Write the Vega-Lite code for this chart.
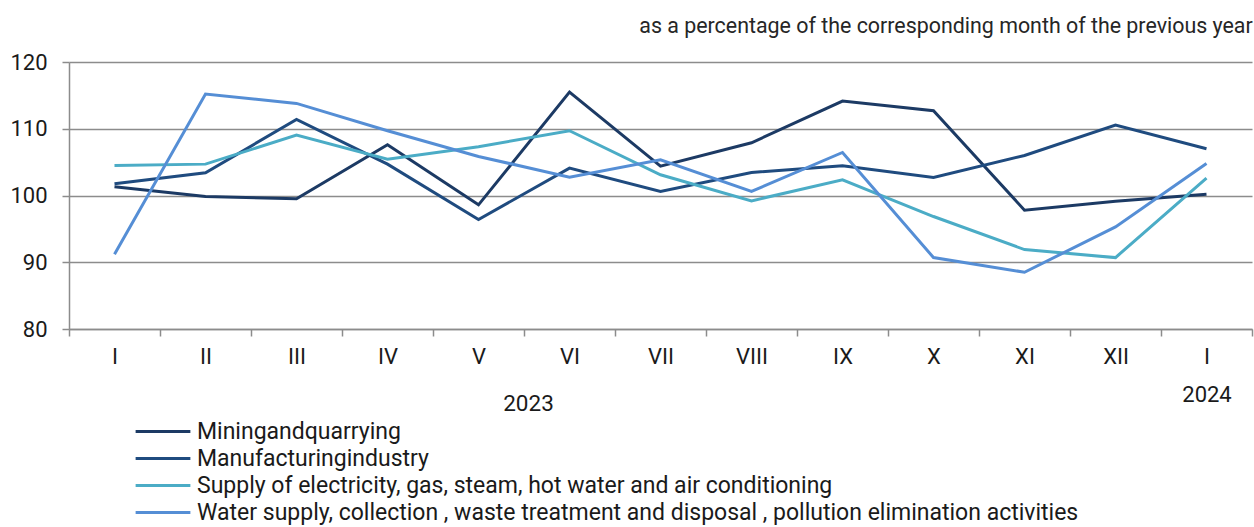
{
  "$schema": "https://vega.github.io/schema/vega-lite/v6.json",
  "autosize": {"type": "none"},
  "padding": {"left": 69, "top": 62, "right": 2, "bottom": 198},
  "width": 1183,
  "height": 267,
  "background": "white",
  "title": {
    "text": "as a percentage of the corresponding month of the previous year",
    "anchor": "end",
    "font": "Roboto",
    "fontSize": 21.4,
    "fontWeight": "normal",
    "color": "#262626",
    "offset": 14
  },
  "config": {
    "view": {"stroke": null},
    "font": "Roboto"
  },
  "data": {
    "values": [
      {"period": "I 2023", "series": "Miningandquarrying", "value": 101.3},
      {"period": "II", "series": "Miningandquarrying", "value": 99.85},
      {"period": "III", "series": "Miningandquarrying", "value": 99.5},
      {"period": "IV", "series": "Miningandquarrying", "value": 107.6},
      {"period": "V", "series": "Miningandquarrying", "value": 98.6},
      {"period": "VI", "series": "Miningandquarrying", "value": 115.5},
      {"period": "VII", "series": "Miningandquarrying", "value": 104.4},
      {"period": "VIII", "series": "Miningandquarrying", "value": 107.9},
      {"period": "IX", "series": "Miningandquarrying", "value": 114.15},
      {"period": "X", "series": "Miningandquarrying", "value": 112.7},
      {"period": "XI", "series": "Miningandquarrying", "value": 97.8},
      {"period": "XII", "series": "Miningandquarrying", "value": 99.15},
      {"period": "I 2024", "series": "Miningandquarrying", "value": 100.2},

      {"period": "I 2023", "series": "Manufacturingindustry", "value": 101.75},
      {"period": "II", "series": "Manufacturingindustry", "value": 103.4},
      {"period": "III", "series": "Manufacturingindustry", "value": 111.4},
      {"period": "IV", "series": "Manufacturingindustry", "value": 104.7},
      {"period": "V", "series": "Manufacturingindustry", "value": 96.4},
      {"period": "VI", "series": "Manufacturingindustry", "value": 104.1},
      {"period": "VII", "series": "Manufacturingindustry", "value": 100.6},
      {"period": "VIII", "series": "Manufacturingindustry", "value": 103.45},
      {"period": "IX", "series": "Manufacturingindustry", "value": 104.45},
      {"period": "X", "series": "Manufacturingindustry", "value": 102.7},
      {"period": "XI", "series": "Manufacturingindustry", "value": 106.0},
      {"period": "XII", "series": "Manufacturingindustry", "value": 110.55},
      {"period": "I 2024", "series": "Manufacturingindustry", "value": 107.0},

      {"period": "I 2023", "series": "Supply of electricity, gas, steam, hot water and air conditioning", "value": 104.5},
      {"period": "II", "series": "Supply of electricity, gas, steam, hot water and air conditioning", "value": 104.7},
      {"period": "III", "series": "Supply of electricity, gas, steam, hot water and air conditioning", "value": 109.05},
      {"period": "IV", "series": "Supply of electricity, gas, steam, hot water and air conditioning", "value": 105.45},
      {"period": "V", "series": "Supply of electricity, gas, steam, hot water and air conditioning", "value": 107.3},
      {"period": "VI", "series": "Supply of electricity, gas, steam, hot water and air conditioning", "value": 109.7},
      {"period": "VII", "series": "Supply of electricity, gas, steam, hot water and air conditioning", "value": 103.1},
      {"period": "VIII", "series": "Supply of electricity, gas, steam, hot water and air conditioning", "value": 99.2},
      {"period": "IX", "series": "Supply of electricity, gas, steam, hot water and air conditioning", "value": 102.35},
      {"period": "X", "series": "Supply of electricity, gas, steam, hot water and air conditioning", "value": 96.85},
      {"period": "XI", "series": "Supply of electricity, gas, steam, hot water and air conditioning", "value": 91.9},
      {"period": "XII", "series": "Supply of electricity, gas, steam, hot water and air conditioning", "value": 90.7},
      {"period": "I 2024", "series": "Supply of electricity, gas, steam, hot water and air conditioning", "value": 102.6},

      {"period": "I 2023", "series": "Water supply, collection , waste treatment and disposal , pollution elimination activities", "value": 91.2},
      {"period": "II", "series": "Water supply, collection , waste treatment and disposal , pollution elimination activities", "value": 115.2},
      {"period": "III", "series": "Water supply, collection , waste treatment and disposal , pollution elimination activities", "value": 113.8},
      {"period": "IV", "series": "Water supply, collection , waste treatment and disposal , pollution elimination activities", "value": 109.7},
      {"period": "V", "series": "Water supply, collection , waste treatment and disposal , pollution elimination activities", "value": 105.85},
      {"period": "VI", "series": "Water supply, collection , waste treatment and disposal , pollution elimination activities", "value": 102.75},
      {"period": "VII", "series": "Water supply, collection , waste treatment and disposal , pollution elimination activities", "value": 105.35},
      {"period": "VIII", "series": "Water supply, collection , waste treatment and disposal , pollution elimination activities", "value": 100.6},
      {"period": "IX", "series": "Water supply, collection , waste treatment and disposal , pollution elimination activities", "value": 106.45},
      {"period": "X", "series": "Water supply, collection , waste treatment and disposal , pollution elimination activities", "value": 90.7},
      {"period": "XI", "series": "Water supply, collection , waste treatment and disposal , pollution elimination activities", "value": 88.5},
      {"period": "XII", "series": "Water supply, collection , waste treatment and disposal , pollution elimination activities", "value": 95.3},
      {"period": "I 2024", "series": "Water supply, collection , waste treatment and disposal , pollution elimination activities", "value": 104.8}
    ]
  },
  "mark": {"type": "line", "strokeWidth": 3},
  "encoding": {
    "x": {
      "field": "period",
      "type": "ordinal",
      "sort": null,
      "bandPosition": 0.5,
      "scale": {"type": "band", "paddingInner": 0, "paddingOuter": 0},
      "axis": {
        "title": "2023",
        "titleX": 459,
        "titleY": 74,
        "titleAlign": "center",
        "titleBaseline": "middle",
        "titleFont": "Roboto",
        "titleFontSize": 22.5,
        "titleFontWeight": "normal",
        "titleColor": "#1a1a1a",
        "labelAngle": 0,
        "labelFont": "Roboto",
        "labelFontSize": 22,
        "labelColor": "#1a1a1a",
        "labelPadding": 10,
        "labelLineHeight": 38,
        "labelExpr": "datum.value == 'I 2024' ? ['I', '2024'] : (datum.value == 'I 2023' ? 'I' : datum.value)",
        "tickBand": "extent",
        "tickSize": 7,
        "tickColor": "#8c8c8c",
        "tickWidth": 1.5,
        "domainColor": "#8c8c8c",
        "domainWidth": 1.5,
        "grid": false
      }
    },
    "y": {
      "field": "value",
      "type": "quantitative",
      "scale": {"domain": [80, 120], "nice": false, "zero": false},
      "axis": {
        "title": null,
        "values": [80, 90, 100, 110, 120],
        "labelFont": "Roboto",
        "labelFontSize": 22,
        "labelColor": "#1a1a1a",
        "labelPadding": 15,
        "tickSize": 7,
        "tickColor": "#8c8c8c",
        "tickWidth": 1.5,
        "domainColor": "#8c8c8c",
        "domainWidth": 1.5,
        "grid": true,
        "gridColor": "#8c8c8c",
        "gridWidth": 1.5
      }
    },
    "color": {
      "field": "series",
      "type": "nominal",
      "sort": null,
      "scale": {
        "domain": [
          "Miningandquarrying",
          "Manufacturingindustry",
          "Supply of electricity, gas, steam, hot water and air conditioning",
          "Water supply, collection , waste treatment and disposal , pollution elimination activities"
        ],
        "range": ["#1c3a64", "#1f4b7f", "#4bacc6", "#558ed5"]
      },
      "legend": {
        "title": null,
        "orient": "none",
        "legendX": 65,
        "legendY": 358,
        "symbolType": "stroke",
        "symbolSize": 3000,
        "symbolStrokeWidth": 3,
        "clipHeight": 23,
        "labelFont": "Roboto",
        "labelFontSize": 23,
        "labelColor": "#1a1a1a",
        "labelLimit": 1200,
        "labelOffset": 5,
        "rowPadding": 3,
        "symbolOffset": 0,
        "padding": 0
      }
    }
  }
}
